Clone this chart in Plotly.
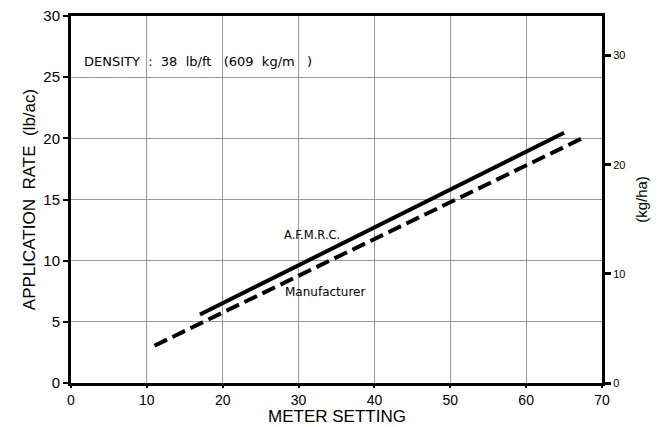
import plotly.graph_objects as go

# Data
afmrc_x = [17, 65]
afmrc_y = [5.6, 20.45]
manuf_x = [11, 67.7]
manuf_y = [3.05, 20.1]

x_ticks = [0, 10, 20, 30, 40, 50, 60, 70]
y_ticks = [0, 5, 10, 15, 20, 25, 30]
kg_ticks = [0, 10, 20, 30]
LB_TO_KG = 1.121

FONT = "Liberation Sans, Arial, sans-serif"
FONT2 = "DejaVu Sans, sans-serif"

fig = go.Figure()
fig.add_trace(go.Scatter(x=afmrc_x, y=afmrc_y, mode="lines",
                         line=dict(color="black", width=4), showlegend=False))
fig.add_trace(go.Scatter(x=manuf_x, y=manuf_y, mode="lines",
                         line=dict(color="black", width=4, dash="14px,6px"), showlegend=False))
# invisible trace for right axis
fig.add_trace(go.Scatter(x=[0], y=[0], yaxis="y2", mode="markers",
                         marker=dict(opacity=0), showlegend=False, hoverinfo="skip"))

fig.update_layout(
    width=662, height=427,
    margin=dict(l=71, r=60, t=16, b=44),
    paper_bgcolor="white", plot_bgcolor="white",
    font=dict(family=FONT, color="black"),
    xaxis=dict(range=[0, 70], tickvals=x_ticks, showgrid=True, gridcolor="#999999",
               gridwidth=1, showline=True, linecolor="black", linewidth=3, mirror=True,
               ticks="outside", ticklen=2, tickwidth=2, tickcolor="black",
               tickfont=dict(size=14, color="black"), zeroline=False, automargin=False),
    yaxis=dict(range=[0, 30], tickvals=y_ticks, showgrid=True, gridcolor="#999999",
               gridwidth=1, showline=True, linecolor="black", linewidth=3, mirror=True,
               ticks="outside", ticklen=5, tickwidth=2, tickcolor="black",
               tickfont=dict(size=15, color="black"), zeroline=False, automargin=False,
               title=dict(text="APPLICATION  RATE  (lb/ac)", font=dict(size=17), standoff=4)),
    yaxis2=dict(range=[0, 30 * LB_TO_KG], tickvals=kg_ticks, overlaying="y", side="right",
                showgrid=False, zeroline=False, ticks="outside", ticklen=8, tickwidth=3,
                tickcolor="black", tickfont=dict(size=11, color="black"), showline=False,
                automargin=False,
                title=dict(text="(kg/ha)", font=dict(size=15), standoff=12)),
)

fig.add_annotation(x=0.5, y=-0.09, xref="paper", yref="paper", yanchor="middle",
                   showarrow=False, text="METER SETTING", font=dict(size=17))
fig.add_annotation(x=1.4, y=26.3, xref="x", yref="y", xanchor="left", showarrow=False,
                   text="DENSITY  :  38  lb/ft   (609  kg/m   )", font=dict(size=13, family=FONT2))
fig.add_annotation(x=27.8, y=12.1, xref="x", yref="y", xanchor="left", showarrow=False,
                   text="A.F.M.R.C.", font=dict(size=11.5, family=FONT2))
fig.add_annotation(x=28.0, y=7.4, xref="x", yref="y", xanchor="left", showarrow=False,
                   text="Manufacturer", font=dict(size=12, family=FONT2))

fig.write_html("out.html")
